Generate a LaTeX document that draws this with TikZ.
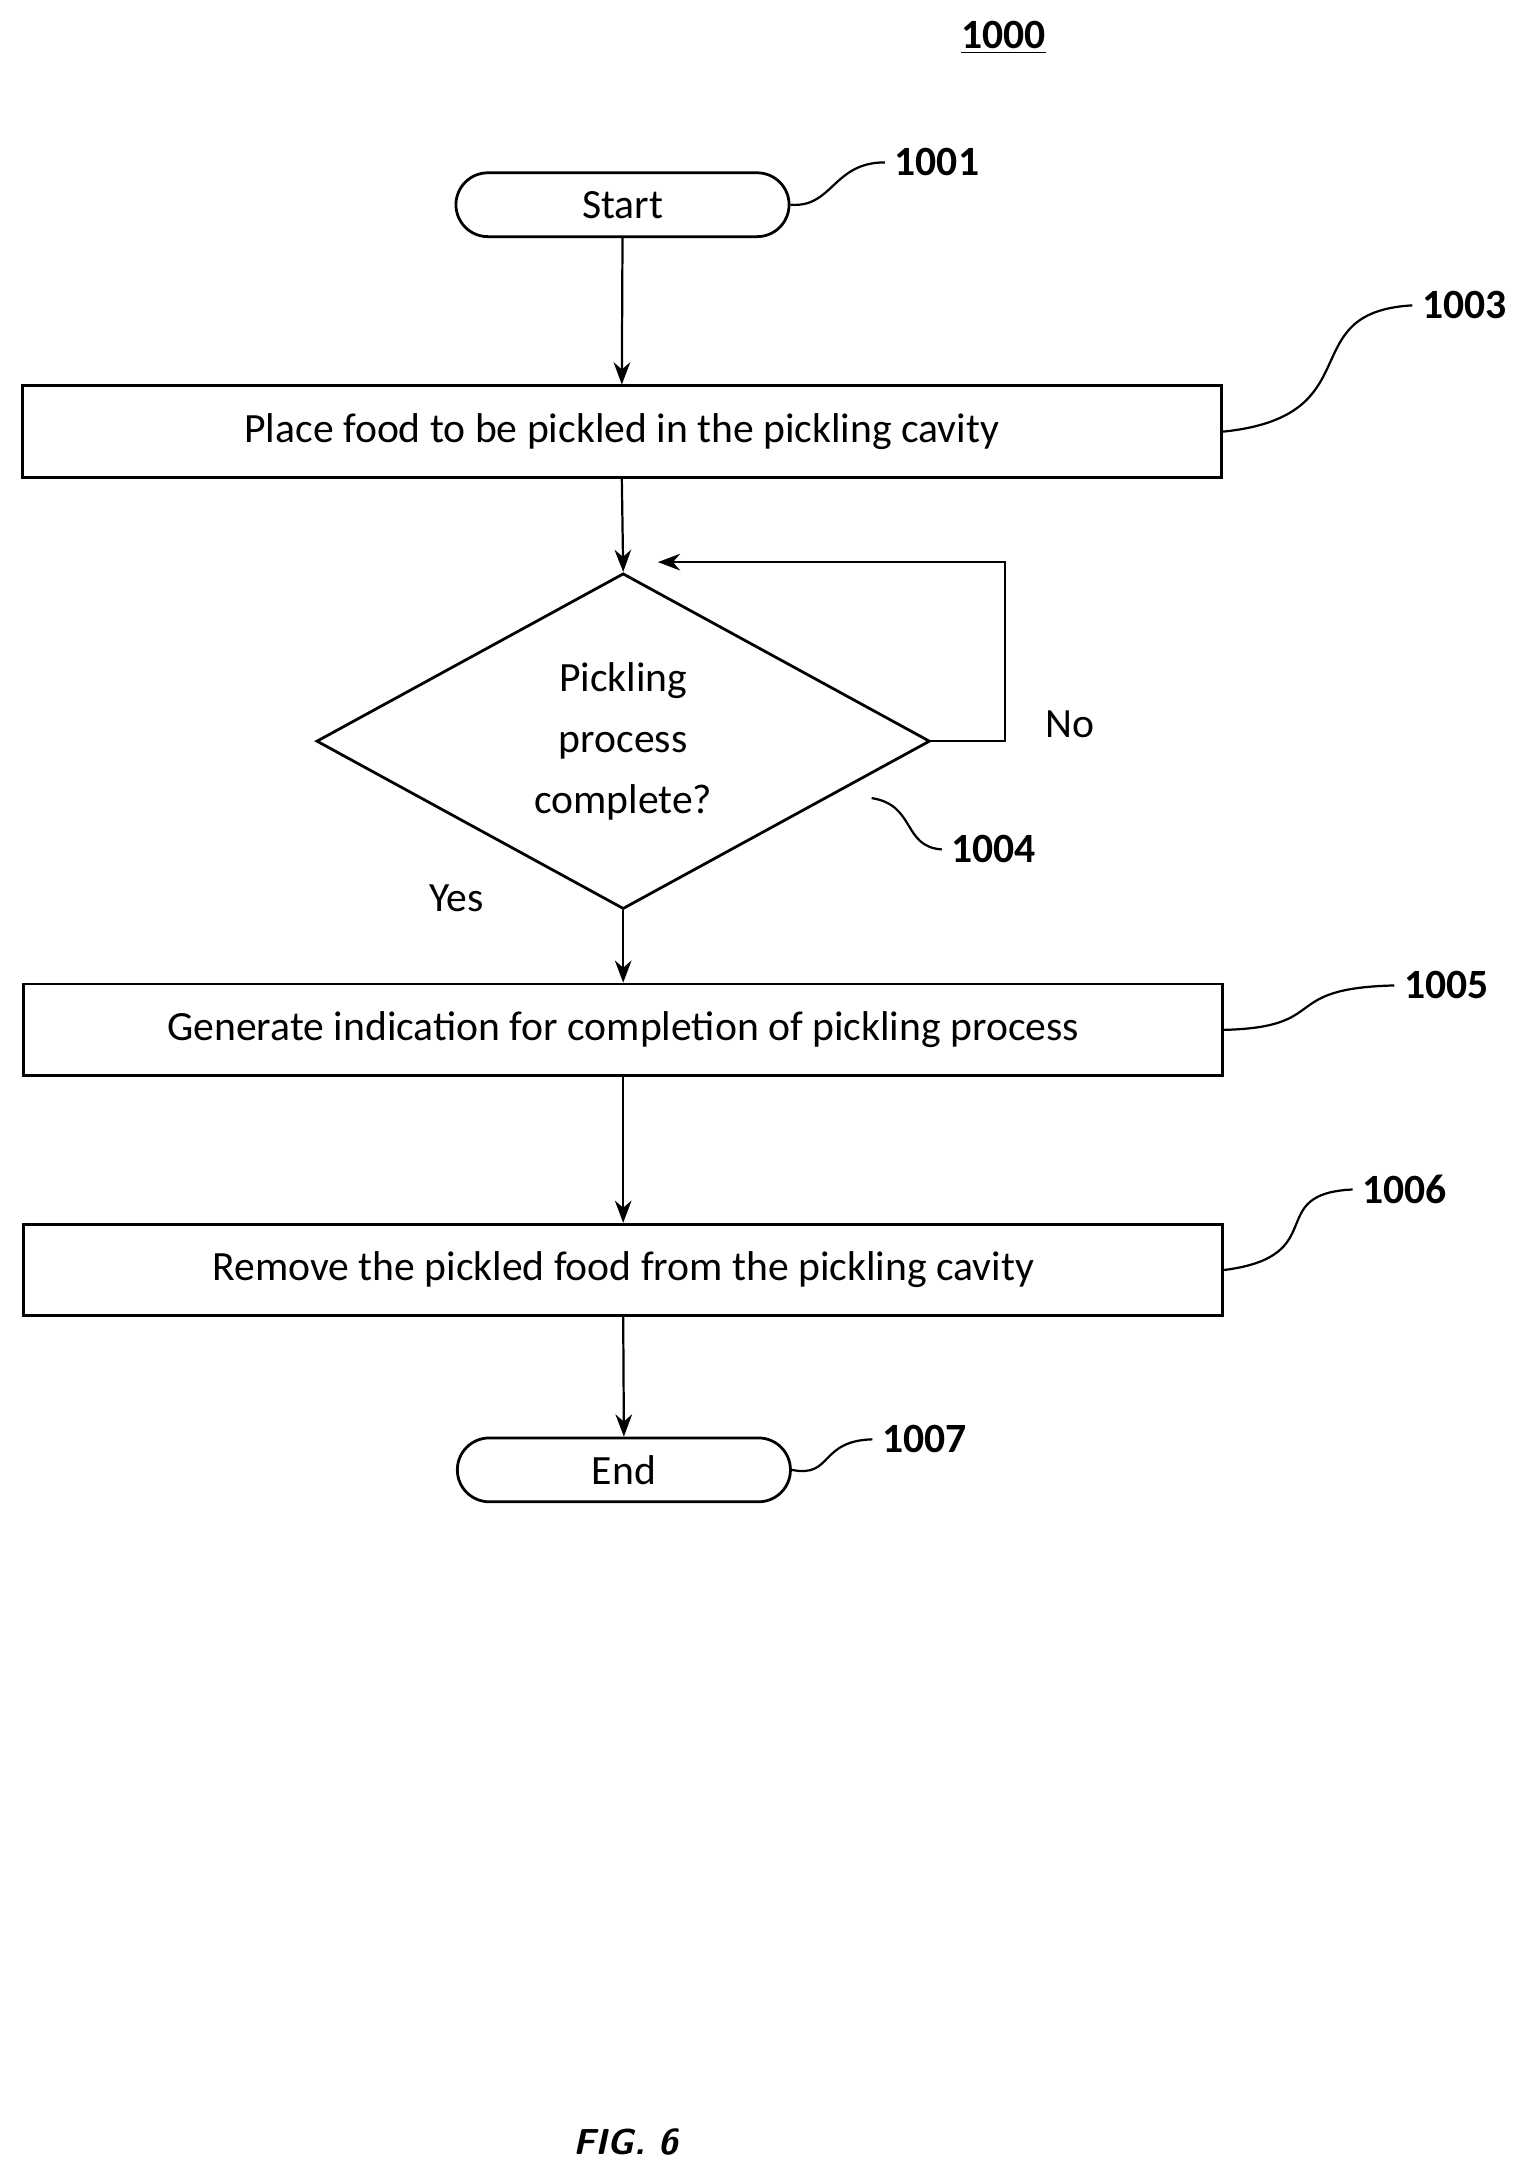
\documentclass[tikz,border=0pt]{standalone}
\usepackage{fontspec}
\setmainfont{Carlito}
\usetikzlibrary{arrows.meta,shapes.geometric}
\begin{document}
\begin{tikzpicture}[x=0.5pt,y=-0.5pt,
  box/.style={draw,line width=1pt,minimum width=432pt,minimum height=33pt,inner sep=0pt,font=\fontsize{15}{18}\selectfont},
  term/.style={draw,line width=1pt,rounded corners=11.5pt,minimum width=120pt,minimum height=23pt,inner sep=0pt,font=\fontsize{15}{18}\selectfont},
  lab/.style={font=\bfseries\fontsize{15}{18}\selectfont},
  arr/.style={-{Stealth[length=8pt,width=6pt]},line width=0.8pt},
  lead/.style={line width=0.8pt}]
\useasboundingbox (0,0) rectangle (1100,1562);
\node[lab] (title) at (723,27) {\underline{1000}};
\node[term] (start) at (448.5,147.5) {Start};
\node[box] (b1) at (448,311) {Place food to be pickled in the pickling cavity};
\node[draw,line width=1pt,diamond,minimum width=221pt,minimum height=112.5pt,inner sep=0pt,align=center,font=\fontsize{15}{22}\selectfont] (d) at (449,534) {Pickling\\process\\complete?};
\node[box] (b2) at (449,742) {Generate indication for completion of pickling process};
\node[box] (b3) at (449,915) {Remove the pickled food from the pickling cavity};
\node[term] (end) at (449.5,1059) {End};
\coordinate (c1) at (724,534);
\coordinate (c2) at (724,405);
\coordinate (c3) at (474,405);
\node[font=\fontsize{15}{18}\selectfont] (no) at (771,522) {No};
\node[font=\fontsize{15}{18}\selectfont] (yes) at (329,647) {Yes};
\node[lab] (l1) at (675,117) {1001};
\node[lab] (l3) at (1055,220) {1003};
\node[lab] (l4) at (716,612) {1004};
\node[lab] (l5) at (1042,710) {1005};
\node[lab] (l6) at (1012,857) {1006};
\node[lab] (l7) at (666,1037) {1007};
\coordinate (p4) at (628,575);
\draw[arr] (start.south) -- (b1.north);
\draw[arr] (b1.south) -- (d.north);
\draw[arr] (d.south) -- (b2.north);
\draw[arr] (b2.south) -- (b3.north);
\draw[arr] (b3.south) -- (end.north);
\draw[arr] (d.east) -- (c1) -- (c2) -- (c3);
\draw[lead] (start.east) .. controls (600,150) and (600,117) .. (l1.west);
\draw[lead] (b1.east) .. controls (990,300) and (930,225) .. (l3.west);
\draw[lead] (p4) .. controls (660,580) and (650,610) .. (l4.west);
\draw[lead] (b2.east) .. controls (960,740) and (920,712) .. (l5.west);
\draw[lead] (b3.east) .. controls (960,905) and (910,860) .. (l6.west);
\draw[lead] (end.east) .. controls (600,1065) and (590,1038) .. (l7.west);
\node[font=\sffamily\bfseries\itshape\fontsize{13}{15}\selectfont] (fig) at (451,1543) {FIG. 6};
\end{tikzpicture}
\end{document}
